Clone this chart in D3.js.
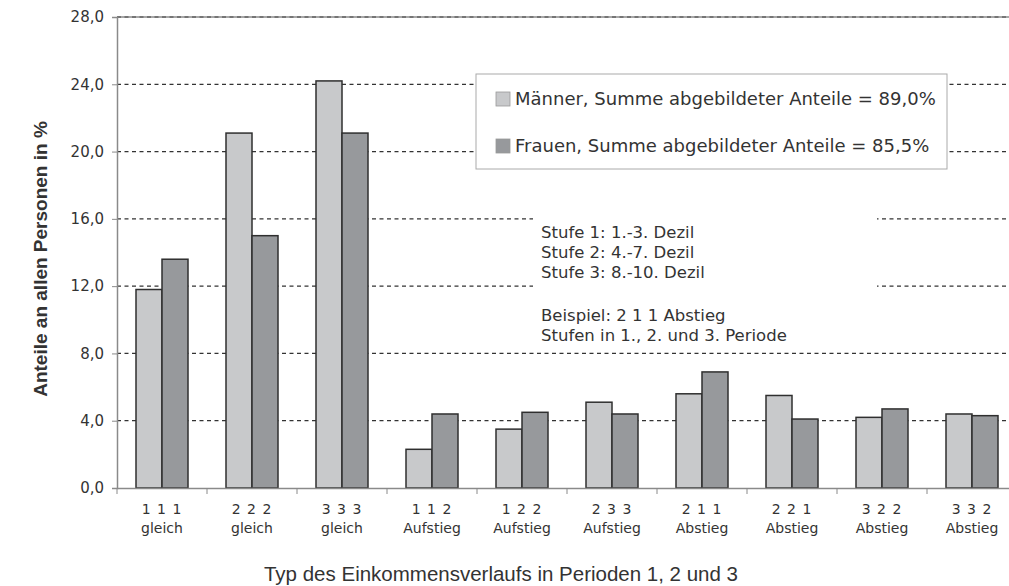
<!DOCTYPE html>
<html><head><meta charset="utf-8">
<script src="https://cdn.jsdelivr.net/npm/d3@7"></script>
<style>body{margin:0;background:#fff}svg{display:block}</style>
</head><body>
<svg id="c" width="1009" height="586"></svg>
<script>
const codes = ["1 1 1","2 2 2","3 3 3","1 1 2","1 2 2","2 3 3","2 1 1","2 2 1","3 2 2","3 3 2"];
const types = ["gleich","gleich","gleich","Aufstieg","Aufstieg","Aufstieg","Abstieg","Abstieg","Abstieg","Abstieg"];
const maenner = [11.8,21.1,24.2,2.3,3.5,5.1,5.6,5.5,4.2,4.4];
const frauen  = [13.6,15.0,21.1,4.4,4.5,4.4,6.9,4.1,4.7,4.3];
const seriesNames = ["Männer, Summe abgebildeter Anteile = 89,0%","Frauen, Summe abgebildeter Anteile = 85,5%"];
const yTicks = [0,4,8,12,16,20,24,28];
const notes1 = ["Stufe 1: 1.-3. Dezil","Stufe 2: 4.-7. Dezil","Stufe 3: 8.-10. Dezil"];
const notes2 = ["Beispiel: 2 1 1 Abstieg","Stufen in 1., 2. und 3. Periode"];

const colors = ["#c8c9cb","#97999c"];
const svg = d3.select("#c");
const L = 117, R = 1017, T = 17, B = 488;
const x = d3.scaleBand().domain(d3.range(codes.length)).range([L,R]).paddingInner(0).paddingOuter(0);
const y = d3.scaleLinear().domain([0,28]).range([B,T]);
const fmt = v => d3.format(".1f")(v).replace(".",",");

// gridlines
svg.append("g").selectAll("line").data(yTicks.filter(t=>t>0 && t<28)).join("line")
  .attr("x1",L).attr("x2",R).attr("y1",d=>y(d)).attr("y2",d=>y(d))
  .attr("stroke","#333").attr("stroke-width",1.3).attr("stroke-dasharray","4,3.5");
svg.append("line").attr("x1",L).attr("x2",R).attr("y1",y(28)).attr("y2",y(28))
  .attr("stroke","#8a8a8a").attr("stroke-width",1.5);
svg.append("line").attr("x1",L).attr("x2",R).attr("y1",y(28)).attr("y2",y(28))
  .attr("stroke","#444").attr("stroke-width",1).attr("stroke-dasharray","4,3.5");

// annotation block background
svg.append("rect").attr("x",533).attr("y",205).attr("width",344).attr("height",142).attr("fill","#fff");

// bars
const bw = 26;
const gBars = svg.append("g");
[maenner,frauen].forEach((vals,si)=>{
  gBars.selectAll(null).data(vals).join("rect")
    .attr("x",(d,i)=>x(i)+x.bandwidth()/2 - bw + si*bw)
    .attr("y",d=>y(d)).attr("width",bw).attr("height",d=>B-y(d))
    .attr("fill",colors[si]).attr("stroke","#2f2f2f").attr("stroke-width",1.5);
});

// y axis
const ya = svg.append("g").attr("transform",`translate(${L},0)`)
  .call(d3.axisLeft(y).tickValues(yTicks).tickFormat(fmt).tickSize(5));
ya.select(".domain").attr("stroke","#8a8a8a").attr("stroke-width",1.5);
ya.selectAll(".tick line").attr("stroke","#8a8a8a");
ya.selectAll("text").attr("font-family","DejaVu Sans").attr("font-size",15).attr("fill","#333").attr("x",-13);

// x axis
const xa = svg.append("g").attr("transform",`translate(0,${B})`)
  .call(d3.axisBottom(x).tickSize(0).tickFormat(""));
xa.select(".domain").attr("stroke","#8a8a8a").attr("stroke-width",1.5);
xa.selectAll(null).data(d3.range(codes.length+1)).join("line")
  .attr("x1",i=>L+i*x.bandwidth()).attr("x2",i=>L+i*x.bandwidth())
  .attr("y1",0).attr("y2",6).attr("stroke","#8a8a8a").attr("stroke-width",1);
const lab = xa.selectAll(".lab").data(codes).join("text").attr("class","lab")
  .attr("font-family","DejaVu Sans").attr("font-size",14).attr("fill","#333").attr("text-anchor","middle");
lab.append("tspan").attr("x",(d,i)=>x(i)+x.bandwidth()/2).attr("y",26).attr("letter-spacing",1).text(d=>d);
lab.append("tspan").attr("x",(d,i)=>x(i)+x.bandwidth()/2).attr("y",45).text((d,i)=>types[i]);

// titles
svg.append("text").attr("transform","translate(47,259) rotate(-90)").attr("text-anchor","middle")
  .attr("font-family","Liberation Sans").attr("font-weight","bold").attr("font-size",19).attr("fill","#333")
  .text("Anteile an allen Personen in %");
svg.append("text").attr("x",501).attr("y",581).attr("text-anchor","middle")
  .attr("font-family","Liberation Sans").attr("font-size",20.5).attr("fill","#333")
  .text("Typ des Einkommensverlaufs in Perioden 1, 2 und 3");

// legend
const lg = svg.append("g");
lg.append("rect").attr("x",476).attr("y",74).attr("width",471).attr("height",95)
  .attr("fill","#fff").attr("stroke","#aaa").attr("stroke-width",1);
seriesNames.forEach((n,i)=>{
  const yy = 105 + i*47;
  lg.append("rect").attr("x",496).attr("y",yy-13).attr("width",14).attr("height",14)
    .attr("fill",colors[i]).attr("stroke","#999").attr("stroke-width",0.8);
  lg.append("text").attr("x",515).attr("y",yy).attr("font-family","DejaVu Sans").attr("font-size",18)
    .attr("fill","#333").text(n);
});

// notes
const nt = svg.append("g").attr("font-family","DejaVu Sans").attr("font-size",16.5).attr("fill","#333");
notes1.forEach((t,i)=>nt.append("text").attr("x",541).attr("y",238+i*20).text(t));
notes2.forEach((t,i)=>nt.append("text").attr("x",541).attr("y",321+i*20).text(t));
</script>
</body></html>
